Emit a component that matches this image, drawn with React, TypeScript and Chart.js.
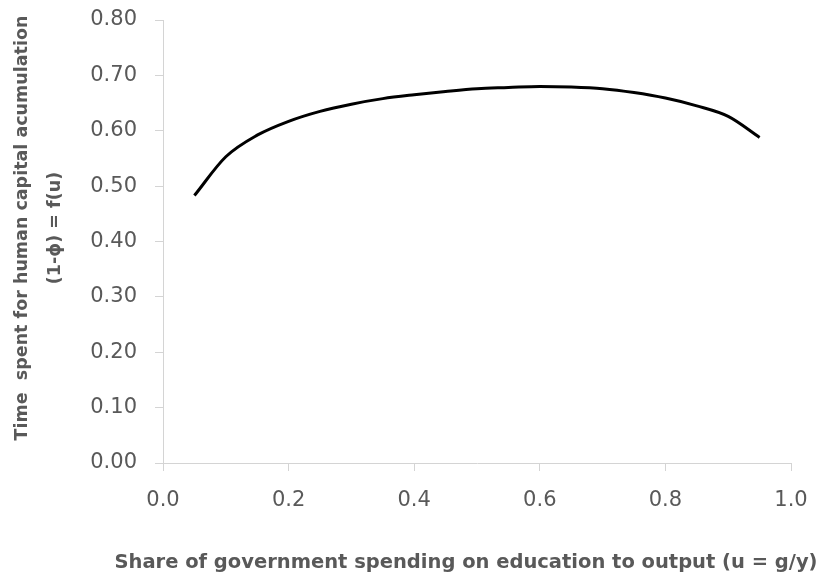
import React, { useEffect, useRef } from "react";
import { Chart, registerables } from "chart.js";

Chart.register(...registerables);

const shareValues = [0.05, 0.10, 0.15, 0.20, 0.25, 0.30, 0.35, 0.40, 0.45, 0.50, 0.55, 0.60, 0.65, 0.70, 0.75, 0.80, 0.85, 0.90, 0.95];
const timeValues = [0.483, 0.553, 0.592, 0.617, 0.635, 0.648, 0.658, 0.665, 0.671, 0.676, 0.678, 0.680, 0.679, 0.676, 0.669, 0.659, 0.645, 0.626, 0.588];

const xTitle = "Share of government spending on education to output (u = g/y)";
const yTitle = ["Time  spent for human capital acumulation", "(1-\u03D5) = f(u)"];

const FONT = "DejaVu Sans";
const AXIS_COLOR = "#d4d4d4";
const TEXT_COLOR = "#595959";

const axisTitlesPlugin = {
  id: "axisTitles",
  afterDraw(chart: any) {
    const ctx = chart.ctx as CanvasRenderingContext2D;
    ctx.save();
    ctx.fillStyle = TEXT_COLOR;
    ctx.textAlign = "center";
    ctx.textBaseline = "middle";
    ctx.font = `bold 19.5px "${FONT}"`;
    ctx.fillText(xTitle, 466, 563);
    ctx.font = `bold 17.5px "${FONT}"`;
    const lineX = [22, 55];
    yTitle.forEach((line, i) => {
      ctx.save();
      ctx.translate(lineX[i], 228);
      ctx.rotate(-Math.PI / 2);
      ctx.fillText(line, 0, 0);
      ctx.restore();
    });
    ctx.restore();
  },
};

export default function App() {
  const ref = useRef<HTMLCanvasElement | null>(null);

  useEffect(() => {
    if (!ref.current) return;
    const data = shareValues.map((x, i) => ({ x, y: timeValues[i] }));
    const chart = new Chart(ref.current, {
      type: "line",
      data: {
        datasets: [
          {
            data,
            borderColor: "#000000",
            borderWidth: 3,
            pointRadius: 0,
            cubicInterpolationMode: "monotone",
            fill: false,
          },
        ],
      },
      plugins: [axisTitlesPlugin],
      options: {
        animation: false,
        responsive: false,
        layout: { padding: { top: 20, right: 34, left: 0, bottom: 0 } },
        plugins: { legend: { display: false }, tooltip: { enabled: false } },
        scales: {
          x: {
            type: "linear",
            min: 0,
            max: 1,
            afterFit: (s: any) => {
              s.height = 111;
              s.paddingLeft = 0;
              s.paddingRight = 0;
            },
            ticks: {
              stepSize: 0.2,
              padding: 17,
              color: TEXT_COLOR,
              font: { family: FONT, size: 21 },
              callback: (v: any) => Number(v).toFixed(1),
            },
            grid: { drawOnChartArea: false, drawTicks: true, tickLength: 8, color: AXIS_COLOR },
            border: { display: true, color: AXIS_COLOR, width: 1 },
          },
          y: {
            type: "linear",
            min: 0,
            max: 0.8,
            afterFit: (s: any) => {
              s.width = 163;
              s.paddingTop = 0;
              s.paddingBottom = 0;
            },
            ticks: {
              stepSize: 0.1,
              padding: 18,
              color: TEXT_COLOR,
              font: { family: FONT, size: 21 },
              callback: (v: any) => Number(v).toFixed(2),
            },
            grid: { drawOnChartArea: false, drawTicks: true, tickLength: 8, color: AXIS_COLOR },
            border: { display: true, color: AXIS_COLOR, width: 1 },
          },
        },
      },
    });
    return () => chart.destroy();
  }, []);

  return (
    <div style={{ position: "fixed", left: 0, top: 0, width: 825, height: 574, background: "#ffffff" }}>
      <canvas ref={ref} width={825} height={574} style={{ display: "block", width: 825, height: 574 }} />
    </div>
  );
}
